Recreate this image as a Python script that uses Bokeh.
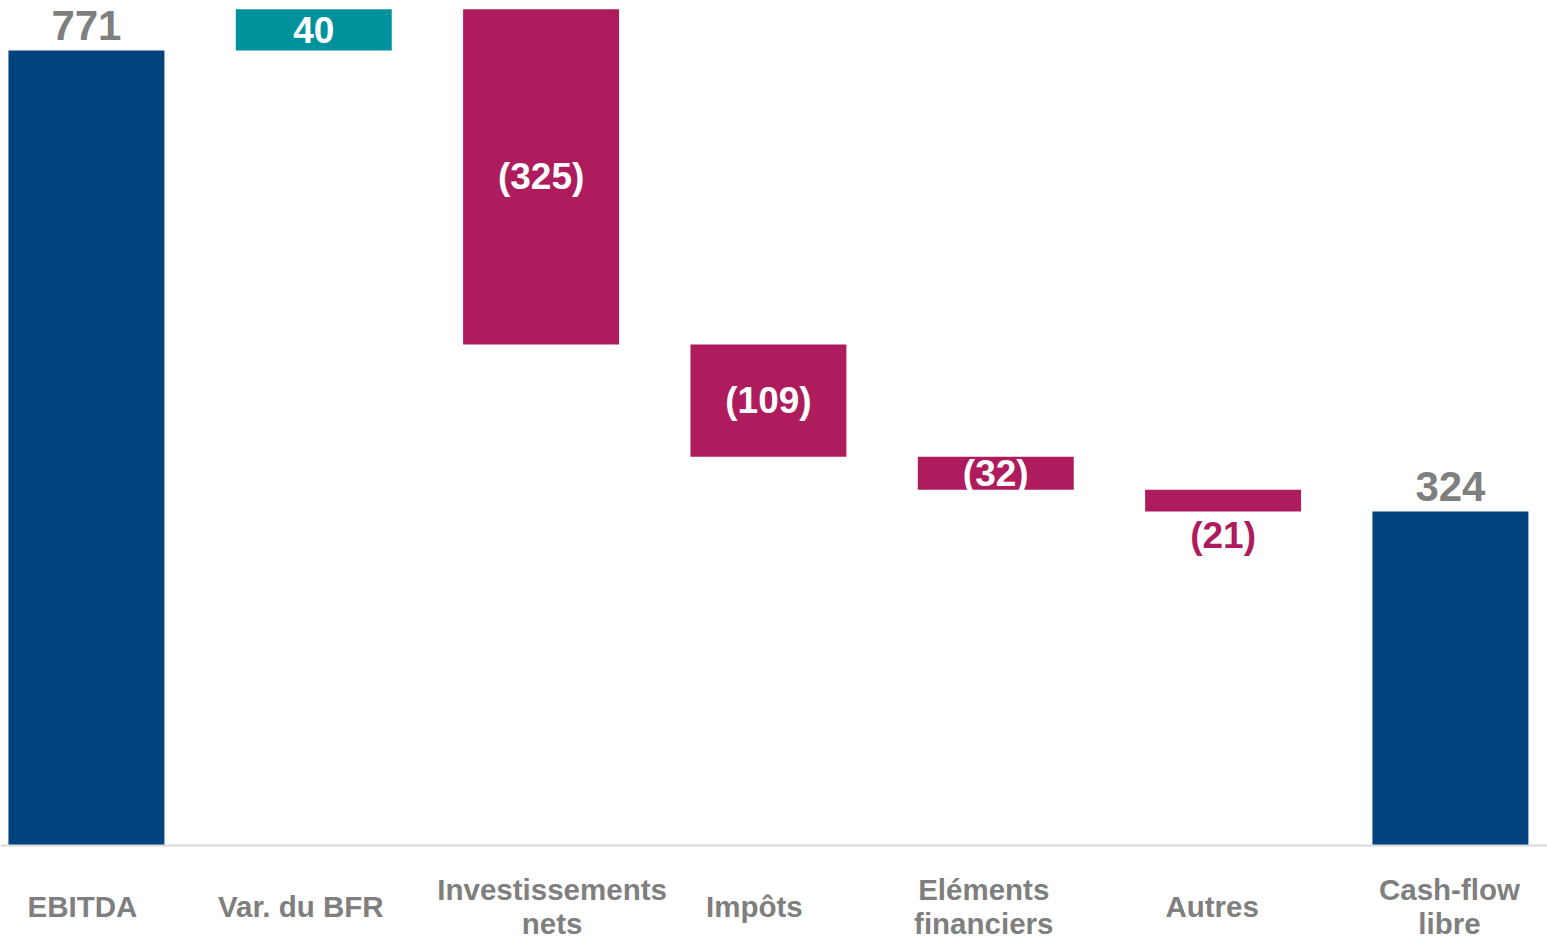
from bokeh.plotting import figure
from bokeh.models import ColumnDataSource, Range1d, Span
from bokeh.core.properties import value
from bokeh.embed import file_html
from bokeh.resources import INLINE

# ---- data ----
categories = ["EBITDA", "Var. du BFR", "Investissements\nnets", "Impôts",
              "Eléments\nfinanciers", "Autres", "Cash-flow\nlibre"]
amounts = [771, 40, -325, -109, -32, -21, 324]
kinds = ["total", "delta", "delta", "delta", "delta", "delta", "total"]
value_labels = ["771", "40", "(325)", "(109)", "(32)", "(21)", "324"]
label_place = ["above", "inside", "inside", "inside", "inside", "below", "above"]

# ---- layout / style (not data) ----
cat_label_dx = [-4, -13, 11, -14, -12, -11, -1]   # px nudges of category labels
NAVY = "#00437F"
TEAL = "#00929C"
MAGENTA = "#AE1C5E"
GREY = "#7F7F7F"

# ---- waterfall geometry from data ----
xs = list(range(len(categories)))
bottoms, tops, colors = [], [], []
running = 0
for a, k in zip(amounts, kinds):
    if k == "total":
        b, t = 0, a
        running = a
        colors.append(NAVY)
    else:
        start = running
        running = running + a
        b, t = min(start, running), max(start, running)
        colors.append(TEAL if a > 0 else MAGENTA)
    bottoms.append(b)
    tops.append(t)

bars = ColumnDataSource(dict(x=xs, bottom=bottoms, top=tops, color=colors))

p = figure(width=1547, height=940, output_backend="svg", toolbar_location=None,
           x_range=Range1d(-0.378, 6.427), y_range=Range1d(-92.1, 819.6),
           min_border=0, outline_line_color=None)
p.axis.visible = False
p.grid.visible = False
p.background_fill_color = "white"
p.border_fill_color = "white"

p.vbar(x="x", bottom="bottom", top="top", width=0.686, fill_color="color",
       line_color=None, source=bars)

p.add_layout(Span(location=0, dimension="width", line_color="#D9D9D9", line_width=2))

FONT = value("Liberation Sans")

# value labels
ax, ay, at = [], [], []
ix, iy, it = [], [], []
bx, by, bt = [], [], []
for x, b, t, lab, pl in zip(xs, bottoms, tops, value_labels, label_place):
    if pl == "above":
        ax.append(x); ay.append(t); at.append(lab)
    elif pl == "inside":
        ix.append(x); iy.append((b + t) / 2); it.append(lab)
    else:
        bx.append(x); by.append(b); bt.append(lab)

p.text(x=ax, y=ay, text=at, text_font=FONT, text_font_style="bold",
       text_font_size="42px", text_color=GREY, text_align="center",
       text_baseline="middle", y_offset=-25)
p.text(x=ix, y=iy, text=it, text_font=FONT, text_font_style="bold",
       text_font_size="37px", text_color="white", text_align="center",
       text_baseline="middle")
p.text(x=bx, y=by, text=bt, text_font=FONT, text_font_style="bold",
       text_font_size="37px", text_color=MAGENTA, text_align="center",
       text_baseline="middle", y_offset=24)

# category labels
cats = ColumnDataSource(dict(x=xs, y=[0] * len(xs), text=categories, dx=cat_label_dx))
p.text(x="x", y="y", text="text", x_offset="dx", source=cats, text_font=FONT,
       text_font_style="bold", text_font_size="29.5px", text_color=GREY,
       text_align="center", text_baseline="middle", text_line_height=1.03,
       y_offset=61)

open("out.html", "w").write(file_html(p, INLINE))
